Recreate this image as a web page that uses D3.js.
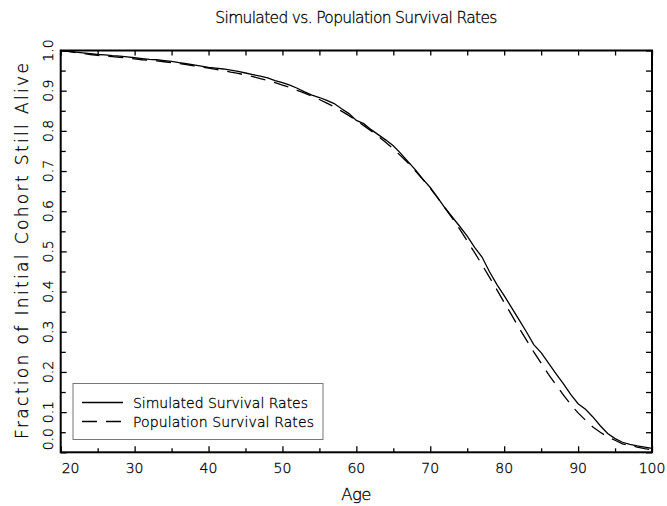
<!DOCTYPE html>
<html>
<head>
<meta charset="utf-8">
<script src="https://cdn.jsdelivr.net/npm/d3@7"></script>
<style>
  html, body { margin: 0; padding: 0; background: #fff; }
  svg { display: block; }
  text { font-family: "DejaVu Sans", sans-serif; font-weight: 200; fill: #000; stroke: #000; stroke-width: 0.3; }
</style>
</head>
<body>
<svg id="chart" width="667" height="506"></svg>
<script>
// ---------------- data ----------------
const chartTitle = "Simulated vs. Population Survival Rates";
const xTitle = "Age";
const yTitle = "Fraction of Initial Cohort Still Alive";
const seriesNames = ["Simulated Survival Rates", "Population Survival Rates"];

const ages = [20,21,22,23,24,25,26,27,28,29,30,31,32,33,34,35,36,37,38,39,
              40,41,42,43,44,45,46,47,48,49,50,51,52,53,54,55,56,57,58,59,
              60,61,62,63,64,65,66,67,68,69,70,71,72,73,74,75,76,77,78,79,
              80,81,82,83,84,85,86,87,88,89,90,91,92,93,94,95,96,97,98,99,100];

const simulated = [1.000,0.998,0.996,0.994,0.992,0.990,0.989,0.987,0.986,0.984,
                   0.982,0.980,0.978,0.977,0.975,0.973,0.970,0.967,0.964,0.961,
                   0.958,0.956,0.954,0.951,0.948,0.944,0.940,0.936,0.932,0.925,
                   0.920,0.914,0.906,0.897,0.889,0.883,0.876,0.868,0.855,0.843,
                   0.826,0.818,0.803,0.790,0.777,0.763,0.744,0.723,0.703,0.680,
                   0.659,0.634,0.608,0.585,0.562,0.538,0.510,0.486,0.450,0.418,
                   0.390,0.360,0.330,0.300,0.268,0.248,0.222,0.196,0.171,0.144,
                   0.121,0.107,0.088,0.066,0.047,0.034,0.025,0.020,0.016,0.013,0.010];

const population = [1.000,0.998,0.995,0.993,0.990,0.988,0.986,0.985,0.983,0.981,
                    0.979,0.977,0.976,0.974,0.972,0.970,0.968,0.965,0.962,0.959,
                    0.956,0.953,0.950,0.946,0.943,0.939,0.935,0.930,0.925,0.920,
                    0.914,0.908,0.901,0.894,0.886,0.878,0.869,0.860,0.849,0.838,
                    0.826,0.813,0.800,0.786,0.771,0.755,0.738,0.720,0.700,0.679,
                    0.657,0.633,0.608,0.582,0.555,0.526,0.497,0.467,0.436,0.405,
                    0.373,0.342,0.310,0.280,0.250,0.222,0.194,0.168,0.143,0.119,
                    0.098,0.080,0.063,0.050,0.038,0.030,0.021,0.017,0.013,0.009,0.006];

const xMajorTicks = [20,30,40,50,60,70,80,90,100];
const xMinorTicks = [25,35,45,55,65,75,85,95];
const yMajorTicks = [0.0,0.1,0.2,0.3,0.4,0.5,0.6,0.7,0.8,0.9,1.0];
const yMinorTicks = [0.05,0.15,0.25,0.35,0.45,0.55,0.65,0.75,0.85,0.95];
const xTickLabels = ["20","30","40","50","60","70","80","90","100"];
const yTickLabels = ["0.0","0.1","0.2","0.3","0.4","0.5","0.6","0.7","0.8","0.9","1.0"];

// ---------------- layout ----------------
const svg = d3.select("#chart");
const L = 60.7, R = 652, T = 50.5, B = 452.3;

const x = d3.scaleLinear().domain([20, 100]).range([L, R]);
const y = d3.scaleLinear().domain([0, 1]).range([B, T]);

// lines
const line = d3.line().x((d, i) => x(ages[i])).y(d => y(d));

svg.append("path").datum(population)
  .attr("d", line).attr("fill", "none")
  .attr("stroke", "#000").attr("stroke-width", 1.3)
  .attr("stroke-dasharray", "15,9");

svg.append("path").datum(simulated)
  .attr("d", line).attr("fill", "none")
  .attr("stroke", "#000").attr("stroke-width", 1.3);

// axes (ticks inward, on all four sides)
function styleAxis(g) {
  g.select(".domain").remove();
  g.selectAll(".tick line").attr("stroke", "#000").attr("stroke-width", 1.3);
  g.selectAll(".tick text").remove();
}
svg.append("g").attr("transform", `translate(0,${B})`)
  .call(d3.axisBottom(x).tickValues(xMajorTicks).tickSize(-6).tickFormat("")).call(styleAxis);
svg.append("g").attr("transform", `translate(0,${B})`)
  .call(d3.axisBottom(x).tickValues(xMinorTicks).tickSize(-4).tickFormat("")).call(styleAxis);
svg.append("g").attr("transform", `translate(0,${T})`)
  .call(d3.axisTop(x).tickValues(xMajorTicks).tickSize(-5).tickFormat("")).call(styleAxis);
svg.append("g").attr("transform", `translate(0,${T})`)
  .call(d3.axisTop(x).tickValues(xMinorTicks).tickSize(-5).tickFormat("")).call(styleAxis);
svg.append("g").attr("transform", `translate(${L},0)`)
  .call(d3.axisLeft(y).tickValues(yMajorTicks).tickSize(-6).tickFormat("")).call(styleAxis);
svg.append("g").attr("transform", `translate(${L},0)`)
  .call(d3.axisLeft(y).tickValues(yMinorTicks).tickSize(-5).tickFormat("")).call(styleAxis);
svg.append("g").attr("transform", `translate(${R},0)`)
  .call(d3.axisRight(y).tickValues(yMajorTicks).tickSize(-6).tickFormat("")).call(styleAxis);
svg.append("g").attr("transform", `translate(${R},0)`)
  .call(d3.axisRight(y).tickValues(yMinorTicks).tickSize(-6).tickFormat("")).call(styleAxis);

// frame
svg.append("rect").attr("x", L).attr("y", T)
  .attr("width", R - L).attr("height", B - T)
  .attr("fill", "none").attr("stroke", "#000").attr("stroke-width", 2);

// x tick labels
svg.append("g").selectAll("text").data(xMajorTicks).join("text")
  .attr("x", (d, i) => i === 0 ? x(d) + 1 : x(d))
  .attr("y", 473)
  .attr("text-anchor", (d, i) => i === 0 ? "start" : "middle")
  .attr("font-size", 14)
  .text((d, i) => xTickLabels[i]);

// y tick labels (rotated)
svg.append("g").selectAll("text").data(yMajorTicks).join("text")
  .attr("transform", d => `translate(53,${y(d)}) rotate(-90)`)
  .attr("x", (d, i) => i === 0 ? 2 : 0)
  .attr("text-anchor", (d, i) => i === 0 ? "start" : "middle")
  .attr("font-size", 14)
  .text((d, i) => yTickLabels[i]);

// titles
svg.append("text").attr("x", (L + R) / 2).attr("y", 23)
  .attr("text-anchor", "middle").attr("font-size", 15.5)
  .attr("textLength", 282).attr("lengthAdjust", "spacing")
  .text(chartTitle);

svg.append("text").attr("x", (L + R) / 2).attr("y", 500)
  .attr("text-anchor", "middle").attr("font-size", 16.5)
  .attr("textLength", 30).attr("lengthAdjust", "spacing")
  .text(xTitle);

svg.append("text").attr("transform", `translate(28,251) rotate(-90)`)
  .attr("text-anchor", "middle").attr("font-size", 17)
  .attr("textLength", 376).attr("lengthAdjust", "spacing")
  .text(yTitle);

// legend
const lg = svg.append("g");
lg.append("rect").attr("x", 73).attr("y", 383.5).attr("width", 250).attr("height", 56)
  .attr("fill", "#fff").attr("stroke", "#777").attr("stroke-width", 1);
const legendRows = [
  { name: seriesNames[0], dash: null, yy: 402.5, len: 175 },
  { name: seriesNames[1], dash: "15,9", yy: 421.5, len: 181 }
];
legendRows.forEach(r => {
  lg.append("line").attr("x1", 82).attr("x2", 123).attr("y1", r.yy).attr("y2", r.yy)
    .attr("stroke", "#000").attr("stroke-width", 1.3)
    .attr("stroke-dasharray", r.dash);
  lg.append("text").attr("x", 133).attr("y", r.yy + 5)
    .attr("font-size", 14)
    .attr("textLength", r.len).attr("lengthAdjust", "spacing")
    .text(r.name);
});
</script>
</body>
</html>
